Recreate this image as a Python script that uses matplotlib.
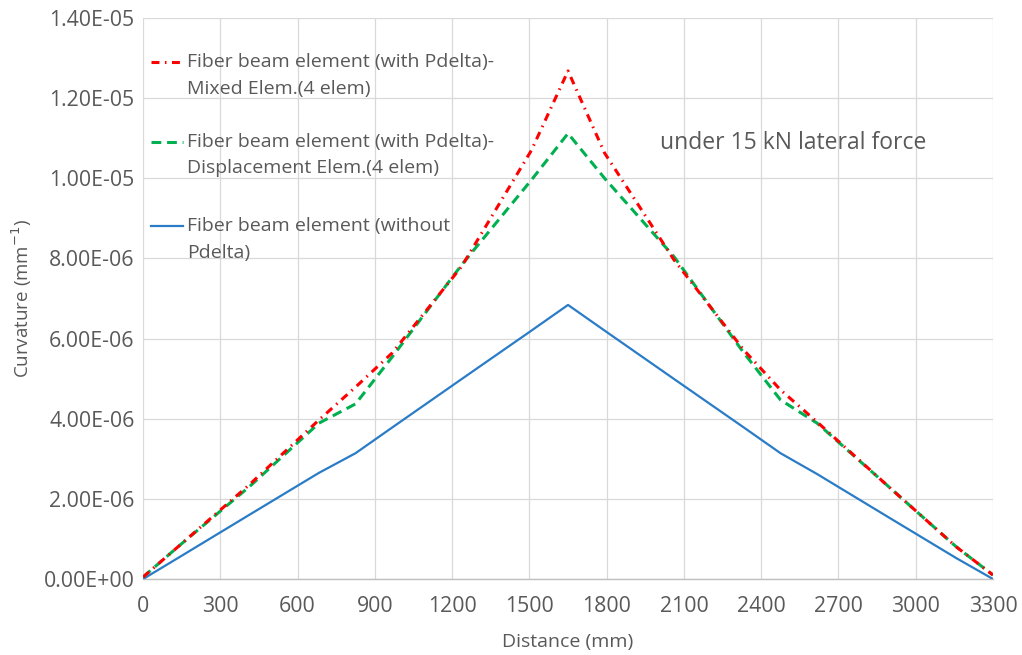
import matplotlib
matplotlib.use('Agg')
import matplotlib.pyplot as plt
from matplotlib.lines import Line2D
from matplotlib.ticker import FuncFormatter, MultipleLocator

plt.rcParams['font.family'] = ['Open Sans', 'DejaVu Sans']

# integration-point positions along the member (mm)
dist = [0, 142, 412, 683, 825, 967, 1237, 1508, 1650,
        1792, 2062, 2333, 2475, 2617, 2887, 3158, 3300]

# curvature (1/mm), scaled by 1e-6
mixed = [0.05, 0.84, 2.35, 3.97, 4.79, 5.64, 7.80, 10.70, 12.68,
         10.63, 7.96, 5.71, 4.72, 3.92, 2.35, 0.80, 0.10]
disp = [0.05, 0.84, 2.30, 3.89, 4.37, 5.54, 7.84, 9.96, 11.12,
        10.00, 8.04, 5.64, 4.47, 3.89, 2.35, 0.80, 0.10]
nopd = [0.0, 0.55, 1.60, 2.65, 3.14, 3.78, 4.99, 6.20, 6.84,
        6.20, 4.99, 3.78, 3.14, 2.62, 1.57, 0.52, 0.0]

labels = [('Fiber beam element (with Pdelta)-', 'Mixed Elem.(4 elem)'),
          ('Fiber beam element (with Pdelta)-', 'Displacement Elem.(4 elem)'),
          ('Fiber beam element (without', 'Pdelta)')]

TXT = '#595959'
GRID = '#d9d9d9'
RED, GREEN, BLUE = '#ff0000', '#00b050', '#2a7cc7'
RED_LS = (0, (2.6, 1.8, 0.5, 1.8))
GREEN_LS = (0, (3.2, 1.9))

fig = plt.figure(figsize=(10.22, 6.55), dpi=100)
ax = fig.add_axes([0.140, 0.116, 0.8316, 0.8565])

sc = 1e-6
ax.plot(dist, [v * sc for v in nopd], color=BLUE, lw=1.6, zorder=3)
ax.plot(dist, [v * sc for v in disp], color=GREEN, lw=2.2,
        linestyle=GREEN_LS, zorder=4)
ax.plot(dist, [v * sc for v in mixed], color=RED, lw=2.2,
        linestyle=RED_LS, zorder=5)

ax.set_xlim(0, 3300)
ax.set_ylim(0, 1.4e-5)
ax.xaxis.set_major_locator(MultipleLocator(300))
ax.yaxis.set_major_locator(MultipleLocator(2e-6))
ax.yaxis.set_major_formatter(FuncFormatter(lambda v, p: '%.2E' % v))
ax.grid(True, color=GRID, lw=0.9, zorder=0)
for s in ['left', 'top', 'right']:
    ax.spines[s].set_visible(False)
ax.spines['bottom'].set_color('#bfbfbf')
ax.spines['bottom'].set_linewidth(1.0)
ax.tick_params(length=0, labelsize=15.3, colors=TXT)
ax.tick_params(axis='x', pad=12)
ax.tick_params(axis='y', pad=6)
ax.set_xlabel('Distance (mm)', fontsize=14, color=TXT, labelpad=12)
ax.set_ylabel('Curvature (mm$^{-1}$)', fontsize=13.5, color=TXT, labelpad=7)

# legend drawn in axes coordinates, handle beside the first text line
styles = [dict(color=RED, lw=2.2, linestyle=RED_LS),
          dict(color=GREEN, lw=2.2, linestyle=GREEN_LS),
          dict(color=BLUE, lw=1.6)]
y_first = [0.921, 0.779, 0.629]
for (l1, l2), st, yy in zip(labels, styles, y_first):
    ax.add_line(Line2D([0.009, 0.047], [yy, yy], transform=ax.transAxes, **st))
    ax.text(0.052, yy, l1, transform=ax.transAxes, ha='left', va='center',
            fontsize=14, color=TXT)
    ax.text(0.052, yy - 0.047, l2, transform=ax.transAxes, ha='left',
            va='center', fontsize=14, color=TXT)

ax.text(2007, 10.88e-6, 'under 15 kN lateral force', ha='left', va='center',
        fontsize=16.5, color=TXT)

fig.savefig('out.png', dpi=100, facecolor='white')
